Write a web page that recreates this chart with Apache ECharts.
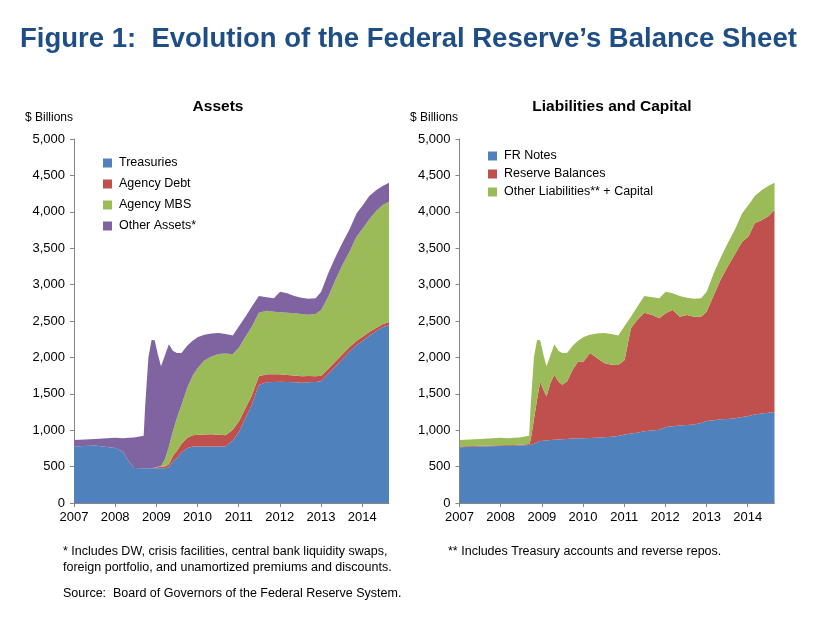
<!DOCTYPE html>
<html><head><meta charset="utf-8">
<script src="https://cdn.jsdelivr.net/npm/echarts@6/dist/echarts.min.js"></script>
<style>html,body{margin:0;padding:0;background:#fff}#c{width:824px;height:618px}</style>
</head><body><div id="c"></div>
<script>
const dates = ['2007-01-03','2007-07-04','2008-01-02','2008-03-12','2008-05-01','2008-06-18','2008-09-10','2008-09-24','2008-10-22','2008-11-19','2008-12-17','2009-01-14','2009-02-11','2009-03-18','2009-04-22','2009-05-27','2009-07-01','2009-08-12','2009-10-01','2009-11-18','2010-01-06','2010-03-03','2010-05-05','2010-07-07','2010-09-08','2010-11-10','2011-01-05','2011-03-02','2011-04-27','2011-06-29','2011-09-07','2011-11-09','2012-01-04','2012-03-07','2012-05-09','2012-07-11','2012-09-12','2012-11-14','2013-01-02','2013-03-06','2013-05-08','2013-07-10','2013-09-11','2013-11-13','2014-01-08','2014-03-05','2014-05-07','2014-07-02','2014-08-27'];

// Assets ($ billions)
const treasuries = [775,790,755,705,570,480,478,478,477,477,477,477,477,477,491,569,615,693,752,775,776,777,777,777,777,857,980,1163,1346,1621,1658,1662,1667,1662,1658,1653,1658,1662,1671,1772,1873,1974,2079,2170,2230,2299,2363,2413,2445];
const agencyDebt = [0,0,0,0,0,0,0,0,0,0,10,15,20,25,40,75,100,120,140,155,160,165,168,160,155,150,147,140,130,120,110,105,100,97,93,88,85,80,76,72,70,68,63,58,57,50,45,42,41];
const agencyMBS = [0,0,0,0,0,0,0,0,0,0,0,5,10,100,244,338,450,536,686,818,926,1017,1069,1109,1120,1035,1011,982,946,874,874,861,852,856,854,855,844,854,904,990,1120,1227,1311,1431,1486,1548,1608,1639,1653];
const otherAssets = [90,90,140,185,325,420,447,872,1523,1763,1747,1543,1373,1428,1405,1108,895,711,582,482,418,351,316,289,268,258,293,275,275,229,183,183,284,265,239,225,220,215,252,321,312,307,306,320,321,320,284,260,261];

// Liabilities and capital ($ billions)
const frNotes = [766,775,784,785,788,790,795,800,815,835,850,855,860,865,870,872,876,880,885,888,890,893,898,903,910,920,940,955,965,985,995,1005,1045,1055,1065,1070,1080,1100,1125,1135,1150,1155,1165,1180,1195,1215,1230,1240,1245];
const reserveBalances = [10,10,10,12,10,10,15,70,327,582,820,700,603,782,891,798,748,790,945,1057,1055,1167,1093,1019,989,976,1024,1444,1549,1630,1588,1532,1560,1596,1495,1513,1480,1460,1503,1720,1925,2101,2254,2410,2464,2627,2658,2694,2780];
const otherLiabCapital = [89,95,101,93,97,100,115,480,858,823,564,485,417,383,419,420,436,390,330,285,335,250,339,413,421,404,467,161,183,229,242,274,298,229,284,238,247,251,275,300,300,320,340,389,435,375,412,420,375];

const assetNames = ['Treasuries','Agency Debt','Agency MBS','Other Assets*'];
const liabNames = ['FR Notes','Reserve Balances','Other Liabilities** + Capital'];
const yTicks = {min:0, max:5000, step:500};

const FONT = '"Liberation Sans", Arial, Helvetica, sans-serif';
const BLUE='#4F81BD', RED='#C0504D', GREEN='#9BBB59', PURPLE='#8064A2';
const AXC = '#868686';

const chart = echarts.init(document.getElementById('c'));
function pairs(arr){ return dates.map((d,i)=>[d, arr[i]]); }
function area(name, arr, color, idx, stack){
  return {name, type:'line', xAxisIndex:idx, yAxisIndex:idx, stack, data:pairs(arr),
    showSymbol:false, symbol:'none', lineStyle:{width:0}, areaStyle:{color, opacity:1},
    itemStyle:{color}, silent:true, animation:false};
}
const xAx = idx => ({type:'time', gridIndex:idx, min:'2007-01-01', max:'2014-08-27',
  minInterval:365*86400000, maxInterval:366*86400000,
  axisLine:{lineStyle:{color:AXC}}, axisTick:{show:true, length:4, lineStyle:{color:AXC}},
  axisLabel:{formatter:'{yyyy}', color:'#000', fontSize:13, fontFamily:FONT, margin:8, showMaxLabel:false, showMinLabel:true, hideOverlap:false},
  splitLine:{show:false}});
const yAx = idx => ({type:'value', gridIndex:idx, min:yTicks.min, max:yTicks.max, interval:yTicks.step,
  axisLine:{show:true, lineStyle:{color:AXC}}, axisTick:{show:true, length:4, lineStyle:{color:AXC}},
  axisLabel:{color:'#000', fontSize:13, fontFamily:FONT, margin:9, formatter:v=>v.toLocaleString('en-US')},
  splitLine:{show:false}});

const legendBase = {orient:'vertical', itemWidth:9, itemHeight:9, icon:'rect', selectedMode:false,
  textStyle:{fontSize:12.5, fontFamily:FONT, color:'#000', padding:[0,0,0,2]}};

chart.setOption({
  animation:false,
  backgroundColor:'#fff',
  grid:[{left:74, top:139, width:315, height:364},{left:459.5, top:139, width:315, height:364}],
  xAxis:[xAx(0), xAx(1)],
  yAxis:[yAx(0), yAx(1)],
  legend:[
    Object.assign({}, legendBase, {data:assetNames, left:98, top:151.5, itemGap:8}),
    Object.assign({}, legendBase, {data:liabNames, left:483, top:144.5, itemGap:5})
  ],
  series:[
    area(assetNames[0], treasuries, BLUE, 0, 'a'),
    area(assetNames[1], agencyDebt, RED, 0, 'a'),
    area(assetNames[2], agencyMBS, GREEN, 0, 'a'),
    area(assetNames[3], otherAssets, PURPLE, 0, 'a'),
    area(liabNames[0], frNotes, BLUE, 1, 'l'),
    area(liabNames[1], reserveBalances, RED, 1, 'l'),
    area(liabNames[2], otherLiabCapital, GREEN, 1, 'l')
  ],
  graphic:[
    {type:'text', left:20, top:25, style:{text:'Figure 1:  Evolution of the Federal Reserve\u2019s Balance Sheet', font:'bold 27.5px '+FONT, fill:'#1F4E87'}},
    {type:'text', x:218, y:107, style:{text:'Assets', font:'bold 15.5px '+FONT, fill:'#000', textAlign:'center', textVerticalAlign:'middle'}},
    {type:'text', x:612, y:107, style:{text:'Liabilities and Capital', font:'bold 15.5px '+FONT, fill:'#000', textAlign:'center', textVerticalAlign:'middle'}},
    {type:'text', x:25, y:118, style:{text:'$ Billions', font:'12px '+FONT, fill:'#000', textVerticalAlign:'middle'}},
    {type:'text', x:410, y:118, style:{text:'$ Billions', font:'12px '+FONT, fill:'#000', textVerticalAlign:'middle'}},
    {type:'text', x:63, y:552, style:{text:'* Includes DW, crisis facilities, central bank liquidity swaps,', font:'12.5px '+FONT, fill:'#000', textVerticalAlign:'middle'}},
    {type:'text', x:63, y:567.5, style:{text:'foreign portfolio, and unamortized premiums and discounts.', font:'12.5px '+FONT, fill:'#000', textVerticalAlign:'middle'}},
    {type:'text', x:63, y:594, style:{text:'Source:  Board of Governors of the Federal Reserve System.', font:'12.5px '+FONT, fill:'#000', textVerticalAlign:'middle'}},
    {type:'text', x:448, y:552, style:{text:'** Includes Treasury accounts and reverse repos.', font:'12.5px '+FONT, fill:'#000', textVerticalAlign:'middle'}}
  ]
});
</script>
</body></html>
